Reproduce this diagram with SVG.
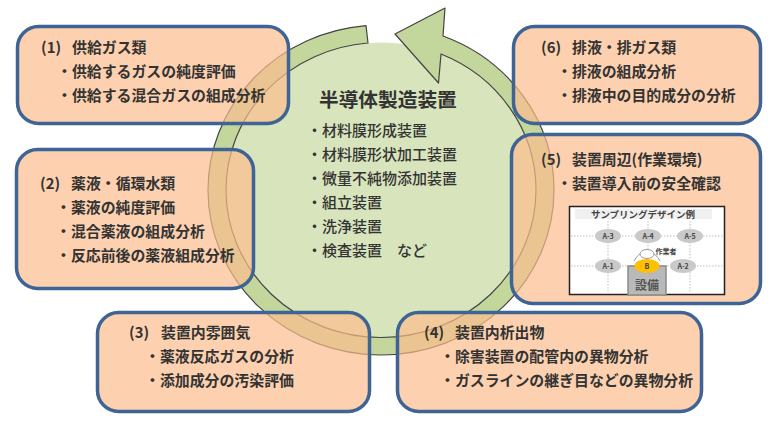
<svg xmlns="http://www.w3.org/2000/svg" width="776" height="431" viewBox="0 0 776 431">
<style>
.box{fill:#FCBD8D;fill-opacity:.7;stroke:#3E6496;stroke-width:3.5}
.t{font-family:"Noto Sans CJK JP","Noto Sans",sans-serif;font-weight:700;font-size:14.9px;fill:#333}
.c{font-family:"Noto Sans CJK JP","Noto Sans",sans-serif;font-weight:500;font-size:15px;fill:#333}
.h{font-family:"Noto Sans CJK JP","Noto Sans",sans-serif;font-weight:700;font-size:19.7px;fill:#333}
.s{font-family:"Noto Sans CJK JP","Noto Sans",sans-serif;font-weight:700;fill:#444;text-anchor:middle}
.g{fill:#c9c9c9}
.d{stroke:#bdbdbd;stroke-width:1;stroke-dasharray:1.5 1.5;fill:none}
</style>
<g id="connectors">
<ellipse cx="381" cy="190" rx="155" ry="147.5" fill="#D8E4BC"/>
<path d="M366 25.600A173 165 0 0 0 208 190A173 165 0 0 0 381 355A173 165 0 0 0 554 190A173 165 0 0 0 443 36L445 8L395 34L438.500 83L441 54A155 147.500 0 0 1 536 190A155 147.500 0 0 1 381 337.500A155 147.500 0 0 1 226 190A155 147.500 0 0 1 368 43Z" fill="#C3D69B" stroke="#444" stroke-width="1.200" stroke-linejoin="round"/>
</g>
<g id="center">
<text class="h" x="319" y="107">半導体製造装置</text>
<text class="c" x="307" y="136">・材料膜形成装置</text>
<text class="c" x="307" y="160">・材料膜形状加工装置</text>
<text class="c" x="307" y="184">・微量不純物添加装置</text>
<text class="c" x="307" y="208">・組立装置</text>
<text class="c" x="307" y="232">・洗浄装置</text>
<text class="c" x="307" y="256">・検査装置　など</text>
</g>
<g id="node1">
<rect class="box" x="17.500" y="26.500" width="271" height="97" rx="21"/>
<text class="t" x="41" y="53">(1)<tspan x="72">供給ガス類</tspan></text>
<text class="t" x="57" y="77">・供給するガスの純度評価</text>
<text class="t" x="57" y="101">・供給する混合ガスの組成分析</text>
</g>
<g id="node2">
<rect class="box" x="16.500" y="149.500" width="237" height="139" rx="21"/>
<text class="t" x="40" y="189">(2)<tspan x="71">薬液・循環水類</tspan></text>
<text class="t" x="56" y="213">・薬液の純度評価</text>
<text class="t" x="56" y="237">・混合薬液の組成分析</text>
<text class="t" x="56" y="261">・反応前後の薬液組成分析</text>
</g>
<g id="node3">
<rect class="box" x="97.500" y="312.500" width="272" height="99" rx="21"/>
<text class="t" x="129" y="338">(3)<tspan x="161">装置内雰囲気</tspan></text>
<text class="t" x="145" y="362">・薬液反応ガスの分析</text>
<text class="t" x="145" y="386">・添加成分の汚染評価</text>
</g>
<g id="node4">
<rect class="box" x="397.500" y="312.500" width="304" height="99" rx="21"/>
<text class="t" x="424" y="338">(4)<tspan x="455">装置内析出物</tspan></text>
<text class="t" x="440" y="362">・除害装置の配管内の異物分析</text>
<text class="t" x="440" y="386">・ガスラインの継ぎ目などの異物分析</text>
</g>
<g id="node5">
<rect class="box" x="511.500" y="134.500" width="249" height="169" rx="21"/>
<text class="t" x="541" y="165">(5)<tspan x="572">装置周辺(作業環境)</tspan></text>
<text class="t" x="557" y="189">・装置導入前の安全確認</text>
<g id="inset">
<rect x="569.500" y="206.500" width="155" height="88" fill="#fff" stroke="#222" stroke-width="1.500"/>
<rect x="575" y="209" width="137" height="10" fill="#f0f0f0"/>
<path class="d" d="M571 236H724M571 266H724M608 221V294M648 221V294M690 221V294"/>
<rect x="628" y="266" width="38" height="29" fill="#b9b9b9" stroke="#8a8a8a" stroke-width="1.500"/>
<text class="s" x="643" y="218" font-size="9.500">サンプリングデザイン例</text>
<ellipse class="g" cx="608" cy="236" rx="13" ry="7"/>
<ellipse class="g" cx="648" cy="236" rx="13" ry="7"/>
<ellipse class="g" cx="690" cy="236" rx="13" ry="7"/>
<ellipse class="g" cx="608" cy="266" rx="13" ry="7"/>
<ellipse class="g" cx="683" cy="266" rx="13" ry="7"/>
<text class="s" x="608" y="239" font-size="7">A-3</text>
<text class="s" x="648" y="239" font-size="7">A-4</text>
<text class="s" x="690" y="239" font-size="7">A-5</text>
<text class="s" x="608" y="269" font-size="7">A-1</text>
<text class="s" x="683" y="269" font-size="7">A-2</text>
<path d="M634 261Q638 253 645 253M660 261Q656 253 649 253" fill="none" stroke="#9a9a9a" stroke-width="1"/>
<ellipse cx="647" cy="254" rx="7" ry="4.500" fill="#fff" stroke="#9a9a9a" stroke-width="1"/>
<ellipse cx="647" cy="266" rx="12.500" ry="7" fill="#FFC000"/>
<text class="s" x="647" y="269" font-size="7">B</text>
<text class="s" x="666" y="254" font-size="7">作業者</text>
<text class="s" x="647" y="290" font-size="12" style="fill:#555">設備</text>
</g>
</g>
<g id="node6">
<rect class="box" x="513.500" y="26.500" width="247" height="97" rx="21"/>
<text class="t" x="541" y="53">(6)<tspan x="572">排液・排ガス類</tspan></text>
<text class="t" x="557" y="77">・排液の組成分析</text>
<text class="t" x="557" y="101">・排液中の目的成分の分析</text>
</g>
</svg>
